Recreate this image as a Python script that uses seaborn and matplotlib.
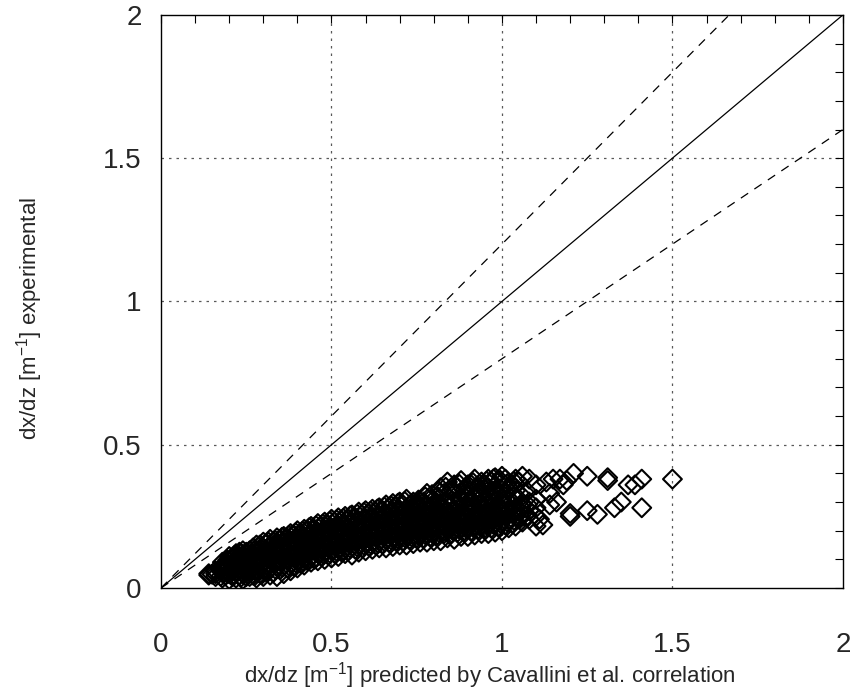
import matplotlib
matplotlib.use("Agg")
import matplotlib.pyplot as plt
import seaborn as sns
import numpy as np
import pandas as pd

# ---- data (predicted vs experimental dx/dz) ----
x_pred = [
    0.14, 0.14, 0.15,
    0.16, 0.16, 0.16,
    0.18, 0.18, 0.18, 0.18,
    0.20, 0.20, 0.20, 0.20, 0.20,
    0.22, 0.22, 0.22, 0.22, 0.22,
    0.24, 0.24, 0.24, 0.24, 0.24, 0.24,
    0.26, 0.26, 0.26, 0.26, 0.26,
    0.28, 0.28, 0.28, 0.28, 0.28, 0.28,
    0.30, 0.30, 0.30, 0.30, 0.30, 0.30,
    0.32, 0.32, 0.32, 0.32, 0.32, 0.32,
    0.34, 0.34, 0.34, 0.34, 0.34, 0.34,
    0.36, 0.36, 0.36, 0.36, 0.36, 0.36,
    0.38, 0.38, 0.38, 0.38, 0.38, 0.38,
    0.40, 0.40, 0.40, 0.40, 0.40, 0.40,
    0.42, 0.42, 0.42, 0.42, 0.42, 0.42,
    0.44, 0.44, 0.44, 0.44, 0.44, 0.44,
    0.46, 0.46, 0.46, 0.46, 0.46, 0.46,
    0.48, 0.48, 0.48, 0.48, 0.48, 0.48,
    0.50, 0.50, 0.50, 0.50, 0.50, 0.50,
    0.52, 0.52, 0.52, 0.52, 0.52, 0.52,
    0.54, 0.54, 0.54, 0.54, 0.54, 0.54,
    0.56, 0.56, 0.56, 0.56, 0.56, 0.56,
    0.58, 0.58, 0.58, 0.58, 0.58, 0.58,
    0.60, 0.60, 0.60, 0.60, 0.60, 0.60,
    0.62, 0.62, 0.62, 0.62, 0.62, 0.62,
    0.64, 0.64, 0.64, 0.64, 0.64, 0.64,
    0.66, 0.66, 0.66, 0.66, 0.66, 0.66,
    0.68, 0.68, 0.68, 0.68, 0.68, 0.68,
    0.70, 0.70, 0.70, 0.70, 0.70, 0.70,
    0.72, 0.72, 0.72, 0.72, 0.72, 0.72,
    0.74, 0.74, 0.74, 0.74, 0.74, 0.74,
    0.76, 0.76, 0.76, 0.76, 0.76, 0.76,
    0.78, 0.78, 0.78, 0.78, 0.78, 0.78,
    0.80, 0.80, 0.80, 0.80, 0.80,
    0.82, 0.82, 0.82, 0.82, 0.82, 0.82,
    0.84, 0.84, 0.84, 0.84, 0.84, 0.84,
    0.86, 0.86, 0.86, 0.86, 0.86, 0.86,
    0.88, 0.88, 0.88, 0.88, 0.88, 0.88,
    0.90, 0.90, 0.90, 0.90, 0.90, 0.90,
    0.92, 0.92, 0.92, 0.92, 0.92, 0.92,
    0.94, 0.94, 0.94, 0.94, 0.94, 0.94,
    0.96, 0.96, 0.96, 0.96, 0.96, 0.96,
    0.98, 0.98, 0.98, 0.98, 0.98, 0.98,
    1.00, 1.00, 1.00, 1.00, 1.00,
    1.02, 1.02, 1.02, 1.02, 1.02,
    1.04, 1.04, 1.04, 1.04, 1.04,
    1.06, 1.06, 1.06, 1.06,
    1.08, 1.08, 1.08, 1.08,
    1.10, 1.10, 1.10, 1.10, 1.10,
    1.12, 1.11, 1.13, 1.14, 1.14, 1.15, 1.16, 1.17, 1.18, 1.19,
    1.20, 1.20, 1.21, 1.25, 1.25, 1.28, 1.31, 1.31, 1.33, 1.35,
    1.37, 1.39, 1.41, 1.41, 1.50,
]
y_exp = [
    0.045, 0.050, 0.048,
    0.040, 0.060, 0.050,
    0.035, 0.055, 0.075, 0.090,
    0.030, 0.050, 0.070, 0.090, 0.110,
    0.035, 0.060, 0.080, 0.100, 0.120,
    0.030, 0.050, 0.075, 0.095, 0.115, 0.130,
    0.040, 0.060, 0.085, 0.110, 0.130,
    0.035, 0.055, 0.080, 0.100, 0.125, 0.150,
    0.040, 0.065, 0.090, 0.115, 0.140, 0.160,
    0.045, 0.070, 0.100, 0.120, 0.145, 0.170,
    0.040, 0.075, 0.095, 0.130, 0.155, 0.175,
    0.050, 0.080, 0.110, 0.135, 0.160, 0.180,
    0.060, 0.085, 0.115, 0.140, 0.165, 0.190,
    0.070, 0.095, 0.120, 0.150, 0.175, 0.200,
    0.080, 0.105, 0.130, 0.155, 0.180, 0.205,
    0.090, 0.110, 0.140, 0.165, 0.190, 0.215,
    0.095, 0.120, 0.145, 0.170, 0.195, 0.225,
    0.100, 0.125, 0.150, 0.175, 0.200, 0.230,
    0.105, 0.130, 0.155, 0.180, 0.210, 0.240,
    0.110, 0.135, 0.160, 0.190, 0.215, 0.245,
    0.120, 0.140, 0.170, 0.195, 0.220, 0.250,
    0.115, 0.145, 0.175, 0.200, 0.230, 0.255,
    0.125, 0.150, 0.180, 0.210, 0.235, 0.265,
    0.130, 0.155, 0.185, 0.215, 0.240, 0.270,
    0.135, 0.160, 0.190, 0.220, 0.245, 0.275,
    0.140, 0.165, 0.195, 0.225, 0.250, 0.280,
    0.140, 0.170, 0.200, 0.230, 0.260, 0.290,
    0.145, 0.175, 0.205, 0.235, 0.265, 0.295,
    0.150, 0.180, 0.210, 0.240, 0.270, 0.300,
    0.150, 0.185, 0.215, 0.245, 0.275, 0.310,
    0.155, 0.185, 0.215, 0.245, 0.280, 0.300,
    0.160, 0.190, 0.220, 0.250, 0.280, 0.300,
    0.160, 0.190, 0.225, 0.255, 0.285, 0.330,
    0.165, 0.195, 0.225, 0.260, 0.290,
    0.165, 0.200, 0.230, 0.260, 0.290, 0.350,
    0.175, 0.205, 0.235, 0.265, 0.300, 0.370,
    0.170, 0.200, 0.235, 0.270, 0.300, 0.360,
    0.180, 0.210, 0.240, 0.270, 0.310, 0.375,
    0.180, 0.215, 0.245, 0.280, 0.320, 0.360,
    0.185, 0.220, 0.250, 0.280, 0.320, 0.380,
    0.190, 0.220, 0.255, 0.290, 0.330, 0.370,
    0.190, 0.225, 0.260, 0.290, 0.350, 0.380,
    0.195, 0.230, 0.260, 0.300, 0.340, 0.385,
    0.200, 0.235, 0.270, 0.310, 0.390,
    0.210, 0.240, 0.270, 0.300, 0.350,
    0.216, 0.250, 0.280, 0.340, 0.380,
    0.230, 0.260, 0.290, 0.390,
    0.240, 0.270, 0.300, 0.380,
    0.216, 0.250, 0.280, 0.310, 0.360,
    0.220, 0.240, 0.370, 0.330, 0.290, 0.380, 0.300, 0.380, 0.360, 0.375,
    0.260, 0.250, 0.400, 0.390, 0.270, 0.257, 0.385, 0.375, 0.280, 0.300,
    0.360, 0.360, 0.380, 0.280, 0.380,
]

# second group of points filling the dense core of the cloud
x_pred_core = [
    0.19, 0.19, 0.19,
    0.21, 0.21, 0.21, 0.21,
    0.23, 0.23, 0.23, 0.23, 0.23,
    0.25, 0.25, 0.25, 0.25, 0.25,
    0.27, 0.27, 0.27, 0.27, 0.27,
    0.29, 0.29, 0.29, 0.29, 0.29,
    0.31, 0.31, 0.31, 0.31, 0.31,
    0.33, 0.33, 0.33, 0.33, 0.33,
    0.35, 0.35, 0.35, 0.35, 0.35,
    0.37, 0.37, 0.37, 0.37, 0.37,
    0.39, 0.39, 0.39, 0.39, 0.39,
    0.41, 0.41, 0.41, 0.41, 0.41,
    0.43, 0.43, 0.43, 0.43, 0.43,
    0.45, 0.45, 0.45, 0.45, 0.45,
    0.47, 0.47, 0.47, 0.47, 0.47,
    0.49, 0.49, 0.49, 0.49, 0.49,
    0.51, 0.51, 0.51, 0.51, 0.51,
    0.53, 0.53, 0.53, 0.53, 0.53,
    0.55, 0.55, 0.55, 0.55, 0.55,
    0.57, 0.57, 0.57, 0.57, 0.57,
    0.59, 0.59, 0.59, 0.59, 0.59,
    0.61, 0.61, 0.61, 0.61, 0.61,
    0.63, 0.63, 0.63, 0.63, 0.63,
    0.65, 0.65, 0.65, 0.65, 0.65,
    0.67, 0.67, 0.67, 0.67, 0.67,
    0.69, 0.69, 0.69, 0.69, 0.69,
    0.71, 0.71, 0.71, 0.71, 0.71,
    0.73, 0.73, 0.73, 0.73, 0.73,
    0.75, 0.75, 0.75, 0.75, 0.75,
    0.77, 0.77, 0.77, 0.77, 0.77,
    0.79, 0.79, 0.79, 0.79, 0.79,
    0.81, 0.81, 0.81, 0.81, 0.81,
    0.83, 0.83, 0.83, 0.83, 0.83,
    0.85, 0.85, 0.85, 0.85, 0.85,
    0.87, 0.87, 0.87, 0.87, 0.87,
    0.89, 0.89, 0.89, 0.89, 0.89,
    0.91, 0.91, 0.91, 0.91, 0.91,
    0.93, 0.93, 0.93, 0.93, 0.93,
    0.95, 0.95, 0.95, 0.95, 0.95,
    0.97, 0.97, 0.97, 0.97, 0.97,
    0.99, 0.99, 0.99, 0.99, 0.99,
    1.01, 1.01, 1.01, 1.01, 1.01,
    1.03, 1.03, 1.03, 1.03,
    1.05, 1.05, 1.05, 1.05,
]
y_exp_core = [
    0.045, 0.065, 0.085,
    0.040, 0.060, 0.080, 0.100,
    0.045, 0.070, 0.090, 0.110, 0.125,
    0.040, 0.065, 0.085, 0.105, 0.125,
    0.045, 0.070, 0.095, 0.120, 0.140,
    0.050, 0.075, 0.100, 0.130, 0.150,
    0.055, 0.080, 0.105, 0.130, 0.155,
    0.055, 0.085, 0.110, 0.135, 0.160,
    0.065, 0.095, 0.120, 0.145, 0.170,
    0.070, 0.100, 0.125, 0.150, 0.175,
    0.075, 0.105, 0.130, 0.160, 0.185,
    0.085, 0.110, 0.140, 0.165, 0.190,
    0.095, 0.120, 0.145, 0.170, 0.200,
    0.100, 0.130, 0.155, 0.180, 0.205,
    0.110, 0.135, 0.160, 0.190, 0.215,
    0.115, 0.140, 0.165, 0.195, 0.220,
    0.120, 0.145, 0.170, 0.200, 0.230,
    0.125, 0.150, 0.180, 0.205, 0.235,
    0.130, 0.160, 0.185, 0.210, 0.240,
    0.135, 0.165, 0.190, 0.220, 0.245,
    0.140, 0.170, 0.200, 0.225, 0.255,
    0.145, 0.175, 0.205, 0.230, 0.260,
    0.150, 0.180, 0.210, 0.235, 0.265,
    0.155, 0.185, 0.215, 0.245, 0.270,
    0.160, 0.190, 0.220, 0.250, 0.280,
    0.165, 0.195, 0.225, 0.255, 0.285,
    0.165, 0.200, 0.230, 0.260, 0.290,
    0.170, 0.200, 0.230, 0.265, 0.290,
    0.175, 0.205, 0.235, 0.265, 0.295,
    0.175, 0.210, 0.240, 0.270, 0.300,
    0.180, 0.210, 0.240, 0.275, 0.310,
    0.185, 0.215, 0.245, 0.275, 0.320,
    0.190, 0.220, 0.250, 0.280, 0.330,
    0.190, 0.220, 0.250, 0.285, 0.340,
    0.195, 0.225, 0.255, 0.290, 0.350,
    0.200, 0.230, 0.260, 0.300, 0.340,
    0.200, 0.235, 0.265, 0.300, 0.360,
    0.205, 0.240, 0.270, 0.305, 0.350,
    0.210, 0.240, 0.275, 0.310, 0.360,
    0.210, 0.245, 0.280, 0.320, 0.370,
    0.215, 0.250, 0.285, 0.330, 0.370,
    0.220, 0.255, 0.290, 0.330, 0.380,
    0.225, 0.260, 0.300, 0.360,
    0.240, 0.270, 0.310, 0.370,
]

# third group, in between the other two, so the core reads as solid black
x_pred_fill = [
    0.175, 0.175,
    0.195, 0.195, 0.195,
    0.215, 0.215, 0.215, 0.215,
    0.235, 0.235, 0.235, 0.235, 0.235,
    0.255, 0.255, 0.255, 0.255,
    0.275, 0.275, 0.275, 0.275, 0.275,
    0.295, 0.295, 0.295, 0.295, 0.295,
    0.315, 0.315, 0.315, 0.315, 0.315,
    0.335, 0.335, 0.335, 0.335, 0.335,
    0.355, 0.355, 0.355, 0.355, 0.355,
    0.375, 0.375, 0.375, 0.375, 0.375,
    0.395, 0.395, 0.395, 0.395, 0.395,
    0.415, 0.415, 0.415, 0.415, 0.415,
    0.435, 0.435, 0.435, 0.435, 0.435,
    0.455, 0.455, 0.455, 0.455, 0.455,
    0.475, 0.475, 0.475, 0.475, 0.475,
    0.495, 0.495, 0.495, 0.495, 0.495,
    0.515, 0.515, 0.515, 0.515, 0.515,
    0.535, 0.535, 0.535, 0.535, 0.535,
    0.555, 0.555, 0.555, 0.555, 0.555,
    0.575, 0.575, 0.575, 0.575, 0.575,
    0.595, 0.595, 0.595, 0.595, 0.595,
    0.615, 0.615, 0.615, 0.615, 0.615,
    0.635, 0.635, 0.635, 0.635, 0.635,
    0.655, 0.655, 0.655, 0.655, 0.655,
    0.675, 0.675, 0.675, 0.675, 0.675,
    0.695, 0.695, 0.695, 0.695, 0.695,
    0.715, 0.715, 0.715, 0.715, 0.715,
    0.735, 0.735, 0.735, 0.735, 0.735,
    0.755, 0.755, 0.755, 0.755, 0.755,
    0.775, 0.775, 0.775, 0.775, 0.775,
    0.795, 0.795, 0.795, 0.795, 0.795,
    0.815, 0.815, 0.815, 0.815, 0.815,
    0.835, 0.835, 0.835, 0.835, 0.835,
    0.855, 0.855, 0.855, 0.855, 0.855,
    0.875, 0.875, 0.875, 0.875, 0.875,
    0.895, 0.895, 0.895, 0.895, 0.895,
    0.915, 0.915, 0.915, 0.915, 0.915,
    0.935, 0.935, 0.935, 0.935, 0.935,
    0.955, 0.955, 0.955, 0.955, 0.955,
    0.975, 0.975, 0.975, 0.975, 0.975,
    0.995, 0.995, 0.995, 0.995, 0.995,
    1.015, 1.015, 1.015, 1.015,
    1.035, 1.035, 1.035, 1.035,
    1.055, 1.055, 1.055,
    1.075, 1.075, 1.075,
]
y_exp_fill = [
    0.062, 0.041,
    0.052, 0.078, 0.097,
    0.047, 0.069, 0.091, 0.113,
    0.038, 0.058, 0.083, 0.104, 0.121,
    0.051, 0.073, 0.097, 0.118,
    0.043, 0.064, 0.088, 0.109, 0.133,
    0.047, 0.082, 0.107, 0.121, 0.143,
    0.062, 0.089, 0.117, 0.138, 0.161,
    0.066, 0.092, 0.121, 0.147, 0.166,
    0.072, 0.103, 0.128, 0.152, 0.177,
    0.078, 0.112, 0.138, 0.158, 0.184,
    0.088, 0.117, 0.143, 0.168, 0.193,
    0.094, 0.124, 0.148, 0.176, 0.198,
    0.104, 0.131, 0.158, 0.183, 0.211,
    0.109, 0.138, 0.163, 0.188, 0.217,
    0.118, 0.143, 0.171, 0.197, 0.224,
    0.122, 0.151, 0.176, 0.203, 0.232,
    0.128, 0.158, 0.183, 0.211, 0.238,
    0.133, 0.163, 0.191, 0.217, 0.243,
    0.139, 0.169, 0.197, 0.224, 0.252,
    0.144, 0.176, 0.203, 0.231, 0.258,
    0.149, 0.181, 0.211, 0.236, 0.264,
    0.153, 0.186, 0.214, 0.242, 0.268,
    0.158, 0.191, 0.221, 0.249, 0.276,
    0.162, 0.196, 0.227, 0.254, 0.283,
    0.168, 0.202, 0.232, 0.261, 0.287,
    0.171, 0.206, 0.236, 0.266, 0.296,
    0.176, 0.211, 0.241, 0.271, 0.302,
    0.179, 0.213, 0.244, 0.276, 0.294,
    0.183, 0.217, 0.248, 0.279, 0.307,
    0.186, 0.221, 0.253, 0.283, 0.318,
    0.191, 0.224, 0.257, 0.289, 0.326,
    0.194, 0.228, 0.262, 0.293, 0.338,
    0.197, 0.232, 0.266, 0.297, 0.352,
    0.201, 0.236, 0.269, 0.304, 0.344,
    0.205, 0.239, 0.274, 0.311, 0.362,
    0.208, 0.243, 0.278, 0.314, 0.353,
    0.212, 0.247, 0.283, 0.318, 0.368,
    0.215, 0.251, 0.287, 0.324, 0.362,
    0.219, 0.254, 0.291, 0.335, 0.373,
    0.222, 0.258, 0.296, 0.338, 0.381,
    0.226, 0.262, 0.302, 0.347, 0.376,
    0.231, 0.267, 0.306, 0.364,
    0.236, 0.273, 0.318, 0.372,
    0.247, 0.283, 0.326,
    0.253, 0.291, 0.336,
]

ref_x = [0.0, 2.0]
ratio_solid = 1.0
ratio_dashed = [1.2, 0.8]

x_ticks = [0, 0.5, 1, 1.5, 2]
x_tick_labels = ["0", "0.5", "1", "1.5", "2"]
y_ticks = [0, 0.5, 1, 1.5, 2]
y_tick_labels = ["0", "0.5", "1", "1.5", "2"]

df = pd.DataFrame({"pred": x_pred + x_pred_core + x_pred_fill,
                   "exp": y_exp + y_exp_core + y_exp_fill})

sns.set_theme(style="white")
plt.rcParams["font.family"] = ["Liberation Sans", "DejaVu Sans"]
plt.rcParams["mathtext.fontset"] = "custom"
plt.rcParams["mathtext.rm"] = "Liberation Sans"
plt.rcParams["mathtext.it"] = "Liberation Sans"

fig = plt.figure(figsize=(8.61, 6.93), dpi=100)
ax = fig.add_axes([0.187, 0.1515, 0.792, 0.827])

# dotted grid at the labelled ticks
for v in [0.5, 1.0, 1.5]:
    ax.axvline(v, color="0.35", lw=0.9, ls=(0, (2, 4)), zorder=0)
    ax.axhline(v, color="0.35", lw=0.9, ls=(0, (2, 4)), zorder=0)

# reference lines: y = x and +/-20 %
rx = np.array(ref_x)
sns.lineplot(x=rx, y=ratio_solid * rx, color="black", lw=0.9, ax=ax)
for r in ratio_dashed:
    sns.lineplot(x=rx, y=r * rx, color="black", lw=0.9, ax=ax, linestyle=(0, (7, 6)))

sns.scatterplot(data=df, x="pred", y="exp", marker="D", s=92,
                facecolor="none", edgecolor="black", linewidth=1.5, ax=ax, zorder=3)

ax.set_xlim(0, 2)
ax.set_ylim(0, 2)
ax.set_xticks(x_ticks)
ax.set_xticklabels(x_tick_labels)
ax.set_yticks(y_ticks)
ax.set_yticklabels(y_tick_labels)
ax.set_xticks(np.arange(0, 2.001, 0.1), minor=True)
ax.set_yticks(np.arange(0, 2.001, 0.1), minor=True)
ax.tick_params(which="both", direction="in", top=True, right=True,
               length=6, width=0.8, color="black")
ax.tick_params(axis="x", which="major", labelsize=20, pad=32)
ax.tick_params(axis="y", which="major", labelsize=20, pad=14)

for sp in ax.spines.values():
    sp.set_color("black")
    sp.set_linewidth(1.0)

ax.set_xlabel("dx/dz [m$^{-1}$] predicted by Cavallini et al. correlation",
              fontsize=16)
ax.set_ylabel("dx/dz [m$^{-1}$] experimental", fontsize=16)
ax.xaxis.set_label_coords(0.482, -0.125)
ax.yaxis.set_label_coords(-0.17, 0.47)

fig.savefig("out.png", dpi=100)
